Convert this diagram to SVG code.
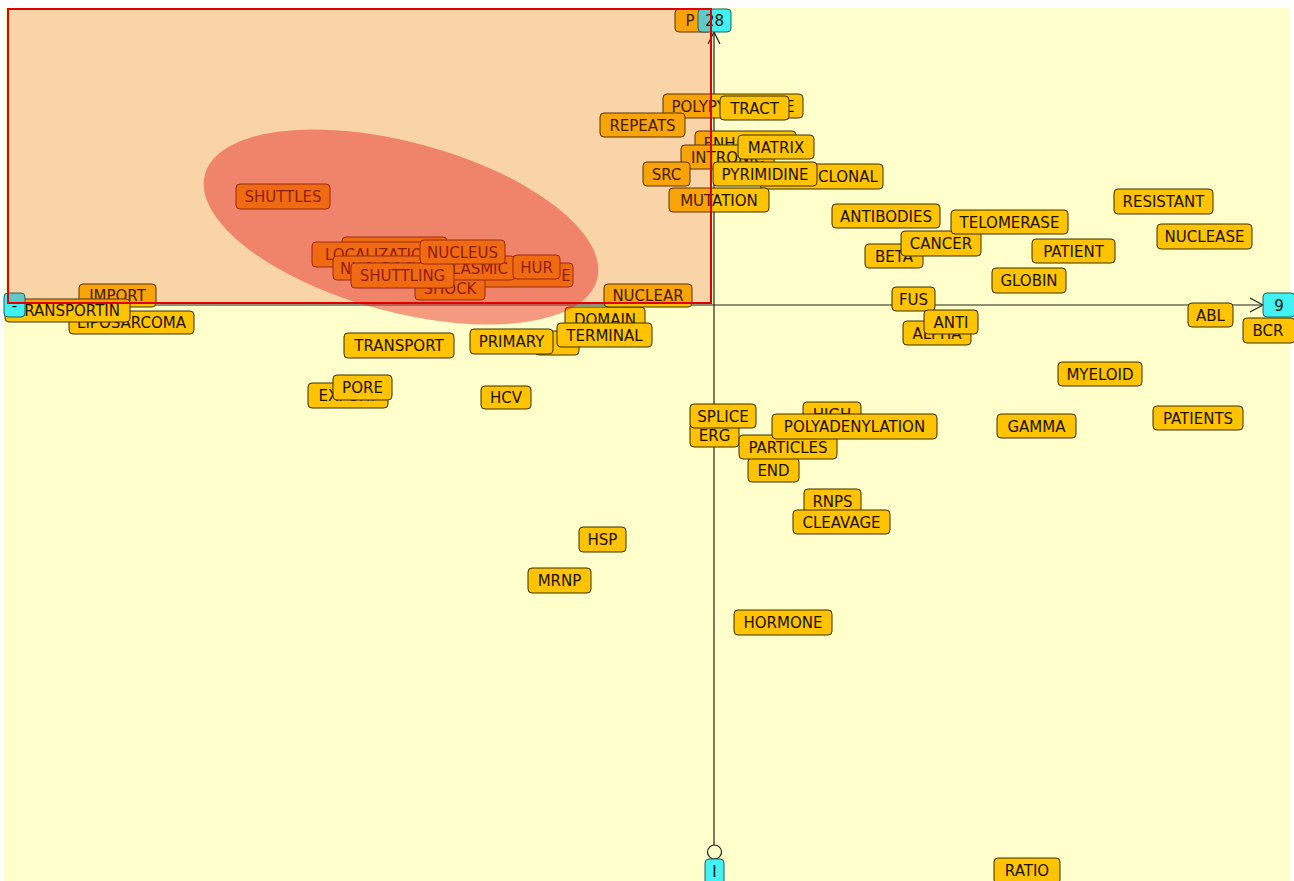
<svg xmlns="http://www.w3.org/2000/svg" width="1294" height="881" viewBox="0 0 1294 881">
<style>
.lb rect{fill:#FFC300;stroke:#3a2e00;stroke-width:1}
.lb text,.nd text{font-family:"DejaVu Sans",sans-serif;font-size:15px;fill:#1a1200;text-anchor:middle}
.nd rect{fill:#40F2F2;stroke:#1f5f5f;stroke-width:1}
.ax{stroke:#222;stroke-width:1.2;fill:none}
</style>
<rect x="0" y="0" width="1294" height="881" fill="#ffffff"/>
<rect x="4" y="8" width="1286" height="873" fill="#FFFFCC"/>
<g id="connectors">
<line class="ax" x1="25" y1="305" x2="1263" y2="305"/>
<polyline class="ax" points="1250,298 1263,305 1250,312"/>
<line class="ax" x1="714" y1="32" x2="714" y2="845"/>
<polyline class="ax" points="708,44 714,32 720,44"/>
<circle class="ax" cx="714.5" cy="852" r="7" fill="#FFFFCC"/>
</g>
<g id="labels">
<g id="n-p" class="lb"><rect x="675" y="9" width="37" height="23" rx="4"/><text x="690" y="26">P</text></g>
<g id="n-polypyrimidine" class="lb"><rect x="663" y="94" width="140" height="24" rx="4"/><text x="733" y="111.5">POLYPYRIMIDINE</text></g>
<g id="n-tract" class="lb"><rect x="720" y="96" width="69" height="24" rx="4"/><text x="754.5" y="113.5">TRACT</text></g>
<g id="n-repeats" class="lb"><rect x="600" y="113" width="85" height="24" rx="4"/><text x="642.5" y="130.5">REPEATS</text></g>
<g id="n-enhancer" class="lb"><rect x="695" y="131" width="101" height="24" rx="4"/><text x="745.5" y="148.5">ENHANCER</text></g>
<g id="n-intronic" class="lb"><rect x="681" y="145" width="93" height="24" rx="4"/><text x="727.5" y="162.5">INTRONIC</text></g>
<g id="n-matrix" class="lb"><rect x="738" y="135" width="76" height="24" rx="4"/><text x="776" y="152.5">MATRIX</text></g>
<g id="n-src" class="lb"><rect x="643" y="162" width="47" height="24" rx="4"/><text x="666.5" y="179.5">SRC</text></g>
<g id="n-clonal" class="lb"><rect x="760" y="164" width="123" height="25" rx="4"/><text x="848" y="182">CLONAL</text></g>
<g id="n-pyrimidine" class="lb"><rect x="713" y="162" width="104" height="24" rx="4"/><text x="765" y="179.5">PYRIMIDINE</text></g>
<g id="n-mutation" class="lb"><rect x="669" y="188" width="100" height="24" rx="4"/><text x="719" y="205.5">MUTATION</text></g>
<g id="n-antibodies" class="lb"><rect x="832" y="204" width="108" height="24" rx="4"/><text x="886" y="221.5">ANTIBODIES</text></g>
<g id="n-beta" class="lb"><rect x="865" y="244" width="58" height="24" rx="4"/><text x="894" y="261.5">BETA</text></g>
<g id="n-cancer" class="lb"><rect x="901" y="231" width="80" height="25" rx="4"/><text x="941" y="249">CANCER</text></g>
<g id="n-telomerase" class="lb"><rect x="951" y="210" width="117" height="24" rx="4"/><text x="1009.5" y="227.5">TELOMERASE</text></g>
<g id="n-resistant" class="lb"><rect x="1114" y="189" width="99" height="25" rx="4"/><text x="1163.5" y="207">RESISTANT</text></g>
<g id="n-nuclease" class="lb"><rect x="1157" y="224" width="95" height="25" rx="4"/><text x="1204.5" y="242">NUCLEASE</text></g>
<g id="n-patient" class="lb"><rect x="1032" y="239" width="83" height="24" rx="4"/><text x="1073.5" y="256.5">PATIENT</text></g>
<g id="n-globin" class="lb"><rect x="992" y="268" width="74" height="25" rx="4"/><text x="1029" y="286">GLOBIN</text></g>
<g id="n-fus" class="lb"><rect x="892" y="287" width="43" height="24" rx="4"/><text x="913.5" y="304.5">FUS</text></g>
<g id="n-alpha" class="lb"><rect x="903" y="321" width="68" height="24" rx="4"/><text x="937" y="338.5">ALPHA</text></g>
<g id="n-anti" class="lb"><rect x="924" y="310" width="54" height="24" rx="4"/><text x="951" y="327.5">ANTI</text></g>
<g id="n-abl" class="lb"><rect x="1188" y="303" width="45" height="24" rx="4"/><text x="1210.5" y="320.5">ABL</text></g>
<g id="n-bcr" class="lb"><rect x="1243" y="318" width="52" height="25" rx="4"/><text x="1268" y="336">BCR</text></g>
<g id="n-myeloid" class="lb"><rect x="1058" y="362" width="84" height="24" rx="4"/><text x="1100" y="379.5">MYELOID</text></g>
<g id="n-patients" class="lb"><rect x="1153" y="406" width="90" height="24" rx="4"/><text x="1198" y="423.5">PATIENTS</text></g>
<g id="n-gamma" class="lb"><rect x="997" y="414" width="79" height="24" rx="4"/><text x="1036.5" y="431.5">GAMMA</text></g>
<g id="n-shuttles" class="lb"><rect x="236" y="184" width="94" height="25" rx="4"/><text x="283" y="202">SHUTTLES</text></g>
<g id="n-e" class="lb"><rect x="440" y="263" width="133" height="24" rx="4"/><text x="566" y="280.5">E</text></g>
<g id="n-hidden1" class="lb"><rect x="342" y="237" width="105" height="24" rx="4"/></g>
<g id="n-localization" class="lb"><rect x="312" y="242" width="135" height="25" rx="4"/><text x="379.5" y="260">LOCALIZATION</text></g>
<g id="n-shock" class="lb"><rect x="415" y="277" width="70" height="23" rx="4"/><text x="450" y="294">SHOCK</text></g>
<g id="n-nucleocytoplasmic" class="lb"><rect x="333" y="256" width="182" height="24" rx="4"/><text x="424" y="273.5">NUCLEOCYTOPLASMIC</text></g>
<g id="n-hur" class="lb"><rect x="513" y="255" width="47" height="24" rx="4"/><text x="536.5" y="272.5">HUR</text></g>
<g id="n-shuttling" class="lb"><rect x="351" y="263" width="103" height="25" rx="4"/><text x="402.5" y="281">SHUTTLING</text></g>
<g id="n-nucleus" class="lb"><rect x="420" y="240" width="85" height="24" rx="4"/><text x="462.5" y="257.5">NUCLEUS</text></g>
<g id="n-import" class="lb"><rect x="79" y="284" width="77" height="23" rx="4"/><text x="117.5" y="301">IMPORT</text></g>
<g id="n-liposarcoma" class="lb"><rect x="69" y="311" width="125" height="23" rx="4"/><text x="131.5" y="328">LIPOSARCOMA</text></g>
<g id="n-transportin" class="lb"><rect x="5" y="299" width="125" height="23" rx="4"/><text x="67.5" y="316">TRANSPORTIN</text></g>
<g id="n-domain" class="lb"><rect x="565" y="307" width="80" height="25" rx="4"/><text x="605" y="325">DOMAIN</text></g>
<g id="n-nuclear" class="lb"><rect x="604" y="284" width="88" height="23" rx="4"/><text x="648" y="301">NUCLEAR</text></g>
<g id="n-hidden2" class="lb"><rect x="535" y="331" width="44" height="24" rx="4"/></g>
<g id="n-primary" class="lb"><rect x="470" y="329" width="83" height="25" rx="4"/><text x="511.5" y="347">PRIMARY</text></g>
<g id="n-terminal" class="lb"><rect x="557" y="323" width="95" height="24" rx="4"/><text x="604.5" y="340.5">TERMINAL</text></g>
<g id="n-transport" class="lb"><rect x="344" y="333" width="110" height="25" rx="4"/><text x="399" y="351">TRANSPORT</text></g>
<g id="n-export" class="lb"><rect x="308" y="383" width="80" height="25" rx="4"/><text x="348" y="401">EXPORT</text></g>
<g id="n-pore" class="lb"><rect x="333" y="375" width="59" height="25" rx="4"/><text x="362.5" y="393">PORE</text></g>
<g id="n-hcv" class="lb"><rect x="481" y="386" width="50" height="23" rx="4"/><text x="506" y="403">HCV</text></g>
<g id="n-high" class="lb"><rect x="803" y="402" width="58" height="24" rx="4"/><text x="832" y="419.5">HIGH</text></g>
<g id="n-erg" class="lb"><rect x="690" y="423" width="49" height="24" rx="4"/><text x="714.5" y="440.5">ERG</text></g>
<g id="n-splice" class="lb"><rect x="690" y="404" width="66" height="24" rx="4"/><text x="723" y="421.5">SPLICE</text></g>
<g id="n-end" class="lb"><rect x="748" y="458" width="51" height="24" rx="4"/><text x="773.5" y="475.5">END</text></g>
<g id="n-particles" class="lb"><rect x="739" y="435" width="98" height="24" rx="4"/><text x="788" y="452.5">PARTICLES</text></g>
<g id="n-polyadenylation" class="lb"><rect x="772" y="414" width="165" height="25" rx="4"/><text x="854.5" y="432">POLYADENYLATION</text></g>
<g id="n-rnps" class="lb"><rect x="804" y="489" width="57" height="24" rx="4"/><text x="832.5" y="506.5">RNPS</text></g>
<g id="n-cleavage" class="lb"><rect x="793" y="510" width="97" height="24" rx="4"/><text x="841.5" y="527.5">CLEAVAGE</text></g>
<g id="n-hsp" class="lb"><rect x="579" y="527" width="47" height="25" rx="4"/><text x="602.5" y="545">HSP</text></g>
<g id="n-mrnp" class="lb"><rect x="528" y="568" width="63" height="25" rx="4"/><text x="559.5" y="586">MRNP</text></g>
<g id="n-hormone" class="lb"><rect x="734" y="610" width="98" height="25" rx="4"/><text x="783" y="628">HORMONE</text></g>
<g id="n-ratio" class="lb"><rect x="994" y="858" width="66" height="26" rx="4"/><text x="1027" y="876">RATIO</text></g>
</g>
<g id="axis-nodes">
<g id="n-28" class="nd"><rect x="698" y="9" width="33" height="23" rx="4"/><text x="714.5" y="26">28</text></g>
<g id="n-minus" class="nd"><rect x="4" y="293" width="21" height="24" rx="4"/><text x="14.5" y="311">-</text></g>
<g id="n-9" class="nd"><rect x="1263" y="293" width="32" height="24" rx="4"/><text x="1279" y="311">9</text></g>
<g id="n-i" class="nd"><rect x="705" y="859" width="19" height="26" rx="4"/><text x="714.5" y="877">I</text></g>
</g>
<g id="overlays">
<ellipse cx="401" cy="227" rx="203" ry="85" transform="rotate(15 401 227)" fill="rgb(232,30,30)" fill-opacity="0.45"/>
<rect x="8" y="9" width="703" height="294" fill="rgb(222,54,33)" fill-opacity="0.21" stroke="#E00000" stroke-width="2"/>
</g>
</svg>
